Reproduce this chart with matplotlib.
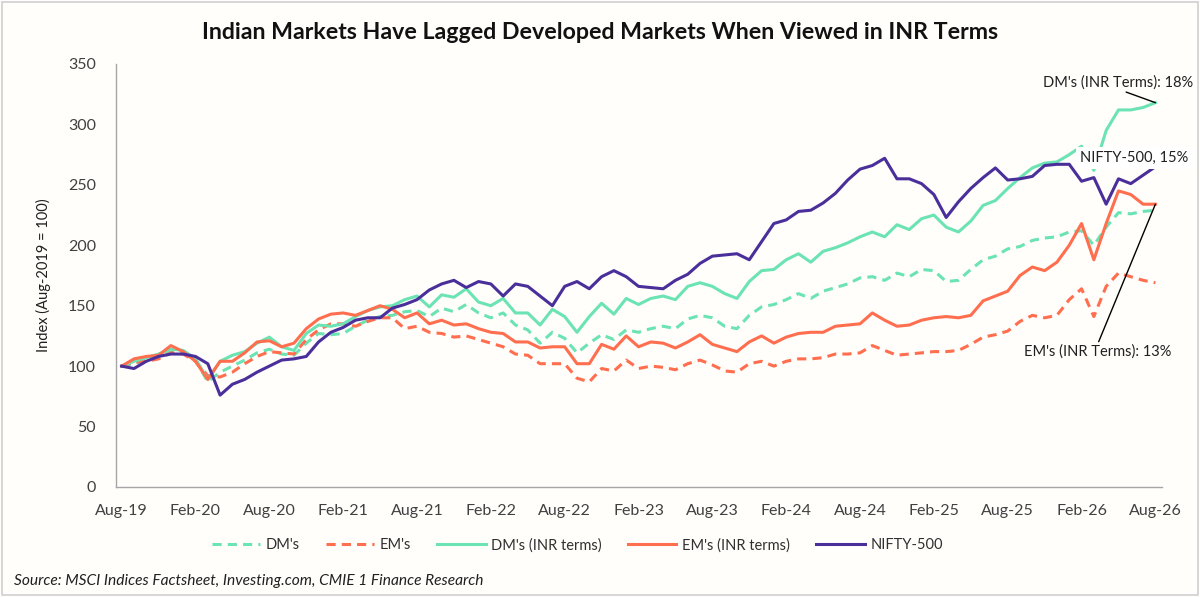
import numpy as np
import matplotlib
matplotlib.use("Agg")
import matplotlib.pyplot as plt
from matplotlib.patches import Rectangle

plt.rcParams['font.family'] = ['Lato', 'DejaVu Sans']

# month labels every 6 months, Aug-19 .. Aug-26 (85 monthly points)
tick_labels = ["Aug-19", "Feb-20", "Aug-20", "Feb-21", "Aug-21", "Feb-22", "Aug-22", "Feb-23",
               "Aug-23", "Feb-24", "Aug-24", "Feb-25", "Aug-25", "Feb-26", "Aug-26"]

dm_usd = [100, 102, 105, 108, 113, 111, 105, 87, 95, 100, 105, 111, 114, 110, 109, 119, 127,
          126, 127, 133, 138, 141, 142, 145, 146, 141, 148, 145, 151, 144, 140, 144, 134, 130,
          119, 128, 123, 111, 119, 126, 122, 130, 128, 131, 133, 131, 139, 142, 140, 133, 131,
          142, 149, 151, 155, 160, 156, 162, 165, 168, 173, 174, 171, 177, 174, 180, 179, 170,
          171, 180, 188, 191, 197, 199, 204, 206, 207, 211, 212, 200, 215, 227, 226, 228, 229]

em_usd = [100, 103, 104, 106, 111, 110, 104, 92, 91, 95, 102, 108, 112, 111, 110, 122, 130,
          135, 135, 133, 137, 140, 140, 131, 133, 128, 127, 124, 125, 122, 119, 116, 110, 109,
          102, 102, 102, 90, 87, 98, 96, 105, 98, 100, 99, 97, 102, 105, 101, 96, 95, 102, 104,
          100, 104, 106, 106, 107, 110, 110, 111, 117, 113, 109, 110, 111, 112, 112, 113, 118,
          124, 126, 129, 137, 142, 140, 142, 155, 164, 141, 166, 177, 174, 171, 169]

dm_inr = [100, 104, 107, 110, 114, 113, 106, 89, 104, 109, 112, 119, 124, 116, 113, 127, 134,
          133, 135, 141, 146, 149, 150, 155, 158, 149, 159, 157, 164, 153, 150, 156, 144, 144,
          134, 147, 141, 128, 141, 152, 143, 156, 151, 156, 158, 155, 166, 169, 166, 160, 156,
          170, 179, 180, 188, 193, 186, 195, 198, 202, 207, 211, 207, 217, 213, 222, 225, 215,
          211, 220, 233, 237, 247, 256, 264, 268, 269, 275, 282, 262, 295, 312, 312, 314, 318]

em_inr = [100, 106, 108, 109, 117, 112, 104, 89, 104, 104, 111, 120, 121, 116, 119, 131, 139,
          143, 144, 142, 146, 150, 147, 140, 144, 135, 138, 134, 135, 131, 128, 127, 120, 120,
          115, 116, 116, 102, 102, 118, 114, 125, 116, 120, 119, 115, 120, 126, 118, 115, 112,
          120, 125, 119, 124, 127, 128, 128, 133, 134, 135, 144, 138, 133, 134, 138, 140, 141,
          140, 142, 154, 158, 162, 175, 182, 179, 186, 200, 218, 188, 218, 245, 242, 234, 234]

nifty = [100, 98, 104, 108, 110, 110, 108, 102, 76, 85, 89, 95, 100, 105, 106, 108, 120,
         128, 132, 138, 140, 140, 148, 151, 155, 163, 168, 171, 165, 170, 168, 158, 168, 166,
         158, 150, 166, 170, 164, 174, 179, 174, 166, 165, 164, 171, 176, 185, 191, 192, 193,
         188, 203, 218, 221, 228, 229, 235, 243, 254, 263, 266, 272, 255, 255, 251, 242, 223,
         236, 247, 256, 264, 254, 255, 257, 266, 267, 267, 253, 256, 234, 255, 251, 258, 265]

green = '#6be3b2'
orange = '#ff6e4e'
purple = '#4a2f9b'

x = np.arange(len(nifty))

fig = plt.figure(figsize=(12, 5.97), dpi=100)
fig.patch.set_facecolor('#fffefb')
ax = fig.add_axes([0.09625, 0.1843, 0.8717, 0.7085])
ax.set_facecolor('#fffefb')

lw = 2.2
ax.plot(x, dm_usd, color=green, lw=lw, dashes=(3, 2), label="DM's")
ax.plot(x, em_usd, color=orange, lw=lw, dashes=(3, 2), label="EM's")
ax.plot(x, dm_inr, color=green, lw=lw, label="DM's (INR terms)")
ax.plot(x, em_inr, color=orange, lw=lw, label="EM's (INR terms)")
ax.plot(x, nifty, color=purple, lw=lw, label="NIFTY-500")

ax.set_xlim(-0.5, len(x) - 0.5)
ax.set_ylim(0, 350)
ax.set_yticks(range(0, 351, 50))
ax.set_xticks(x[::6])
ax.set_xticklabels(tick_labels)
ax.tick_params(length=0, labelsize=11.5, colors='#404040', pad=12)
ax.tick_params(axis='y', pad=14)
for s in ['top', 'right']:
    ax.spines[s].set_visible(False)
for s in ['left', 'bottom']:
    ax.spines[s].set_color('#a6a6a6')
    ax.spines[s].set_linewidth(1)

ax.set_ylabel("Index (Aug-2019 = 100)", fontsize=10.5, color='#202020', labelpad=12)

# annotations for end values
last = len(x) - 1
ax.annotate("DM's (INR Terms): 18%", xy=(last, dm_inr[-1]), xytext=(81.0, 335),
            ha='center', va='center', fontsize=10.5, color='#202020',
            arrowprops=dict(arrowstyle='-', color='black', lw=1, shrinkA=0, shrinkB=0,
                            relpos=(0.5, 0)))
ax.annotate("EM's (INR Terms): 13%", xy=(last, em_inr[-1]), xytext=(79.3, 112),
            ha='center', va='center', fontsize=10.5, color='#202020',
            arrowprops=dict(arrowstyle='-', color='black', lw=1, shrinkA=0, shrinkB=0,
                            relpos=(0.5, 1)))
ax.text(82.3, 272, "NIFTY-500, 15%", ha='center', va='center', fontsize=10.5, color='#202020',
        bbox=dict(facecolor='white', edgecolor='none', pad=3))

fig.suptitle("Indian Markets Have Lagged Developed Markets When Viewed in INR Terms",
             x=0.5, y=0.945, va='center', fontsize=16.7, fontweight='bold', color='#111111')

leg = fig.legend(loc='center', bbox_to_anchor=(0.481, 0.087), ncol=5, frameon=False,
                 fontsize=10.5, handlelength=3.3, columnspacing=1.8, handletextpad=0.4)
for t in leg.get_texts():
    t.set_color('#303030')

fig.text(0.012, 0.027, "Source: MSCI Indices Factsheet, Investing.com, CMIE 1 Finance Research",
         fontsize=11.2, style='italic', color='#202020', va='center')

fig.patches.append(Rectangle((0.002, 0.004), 0.996, 0.992, transform=fig.transFigure,
                             fill=False, edgecolor='#d0d0d0', lw=1.2))

fig.savefig("out.png", dpi=100, facecolor=fig.get_facecolor())
